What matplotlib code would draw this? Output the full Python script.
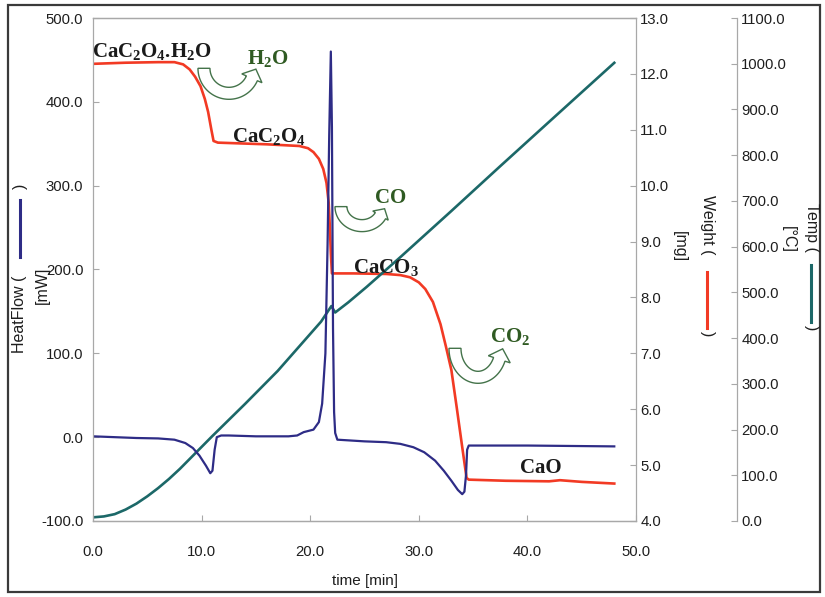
import numpy as np
import matplotlib
matplotlib.use("Agg")
import matplotlib.pyplot as plt
from matplotlib.patches import Polygon, Rectangle
from matplotlib.lines import Line2D
from matplotlib.transforms import Affine2D, ScaledTranslation

plt.rcParams['font.family'] = ['Liberation Sans', 'DejaVu Sans']
plt.rcParams['mathtext.fontset'] = 'custom'
plt.rcParams['mathtext.rm'] = 'Liberation Serif:bold'
plt.rcParams['mathtext.default'] = 'rm'

# heat flow trace [mW]
t_hf = [0.0, 2.0, 4.0, 6.0, 7.5, 8.5, 9.2, 9.8, 10.4, 10.8, 11.0, 11.2, 11.4, 11.8,
        12.5, 15.0, 18.0, 18.8, 19.4, 20.3, 20.8, 21.1, 21.4, 21.6, 21.75, 21.9,
        22.0, 22.1, 22.2, 22.3, 22.5, 25.0, 27.0, 28.3, 29.5, 30.5, 31.5, 32.3,
        33.0, 33.6, 34.0, 34.2, 34.35, 34.45, 34.6, 40.0, 48.0]
heatflow = [1, 0, -1, -1.5, -3, -7, -13, -22, -34, -43, -40, -15, 0, 2,
            2, 1, 1, 2, 6, 9, 18, 40, 100, 230, 360, 460,
            370, 130, 30, 5, -3, -5, -6, -8, -12, -18, -28, -40,
            -52, -63, -68, -65, -45, -15, -10, -10, -11]

# sample weight [mg]
t_wt = [0.0, 3.0, 6.0, 7.5, 8.3, 8.9, 9.4, 9.9, 10.3, 10.6, 10.9, 11.1, 11.5,
        13.0, 16.0, 19.0, 19.8, 20.3, 20.8, 21.2, 21.5, 21.7, 21.8, 21.9, 22.0,
        24.0, 27.0, 28.3, 29.2, 30.0, 30.6, 31.3, 32.0, 32.5, 33.0, 33.5, 34.0,
        34.4, 34.6, 38.0, 42.0, 43.0, 45.0, 48.0]
weight = [12.18, 12.20, 12.21, 12.21, 12.17, 12.08, 11.95, 11.78, 11.55, 11.32, 11.0, 10.80, 10.77,
          10.76, 10.74, 10.71, 10.67, 10.60, 10.48, 10.30, 10.05, 9.7, 9.3, 8.8, 8.43,
          8.43, 8.42, 8.40, 8.36, 8.27, 8.15, 7.92, 7.52, 7.12, 6.70, 6.02, 5.32,
          4.77, 4.74, 4.72, 4.71, 4.73, 4.70, 4.67]

# furnace temperature [°C]
t_temp = [0.0, 1.0, 2.0, 3.0, 4.0, 5.0, 6.0, 7.0, 8.0, 9.0, 10.0, 11.0, 14.0,
          17.0, 19.0, 21.0, 21.95, 22.3, 23.5, 25.2, 28.3, 33.0, 37.5, 42.0, 48.0]
temp = [8, 10, 15, 25, 38, 54, 72, 92, 114, 138, 162, 186, 256,
        328, 382, 436, 470, 456, 478, 512, 577, 678, 776, 873, 1002]

x_ticks = [0, 10, 20, 30, 40, 50]
hf_ticks = [-100, 0, 100, 200, 300, 400, 500]
wt_ticks = [4, 5, 6, 7, 8, 9, 10, 11, 12, 13]
temp_ticks = [0, 100, 200, 300, 400, 500, 600, 700, 800, 900, 1000, 1100]

RED = '#f23a24'
BLUE = '#2e2c86'
TEAL = '#1c6868'
GREEN = '#2f5a22'
SPINE = '#a8a8a8'
TXT = '#1e1e1e'

W, H = 825, 597
fig = plt.figure(figsize=(W / 100, H / 100), dpi=100)
ax = fig.add_axes([93 / W, 1 - 521 / H, (636 - 93) / W, (521 - 18) / H])
ax_wt = ax.twinx()
ax_tp = ax.twinx()

ax_wt.plot(t_wt, weight, color=RED, lw=1.9, solid_joinstyle='round')
ax_tp.plot(t_temp, temp, color=TEAL, lw=1.9, solid_joinstyle='round')
ax.plot(t_hf, heatflow, color=BLUE, lw=1.6, solid_joinstyle='round')

# heat flow axes sits on top so the DSC trace is drawn last
ax.set_zorder(ax_tp.get_zorder() + 1)
ax.patch.set_visible(False)

ax.set_xlim(0, 50)
ax.set_ylim(-100, 500)
ax_wt.set_ylim(4, 13)
ax_tp.set_ylim(0, 1100)

fmt = matplotlib.ticker.FormatStrFormatter('%.1f')
ax.set_xticks(x_ticks)
ax.set_yticks(hf_ticks)
ax_wt.set_yticks(wt_ticks)
ax_tp.set_yticks(temp_ticks)
for a in (ax, ax_wt, ax_tp):
    a.xaxis.set_major_formatter(fmt)
    a.yaxis.set_major_formatter(fmt)
    for s in a.spines.values():
        s.set_color(SPINE)
        s.set_linewidth(0.9)

ax.spines['right'].set_visible(False)
ax_wt.spines['left'].set_visible(False)
for s in ('left', 'top', 'bottom'):
    ax_tp.spines[s].set_visible(False)
ax_tp.spines['right'].set_position(('axes', (737 - 93) / (636 - 93)))

ax.tick_params(axis='y', direction='in', length=4, color=SPINE, pad=7,
               labelsize=10.7, labelcolor=TXT)
ax.tick_params(axis='x', direction='in', length=4, color=SPINE, pad=17,
               labelsize=10.7, labelcolor=TXT)
ax_wt.tick_params(axis='y', direction='in', length=4, color=SPINE, pad=3,
                  labelsize=10.7, labelcolor=TXT)
ax_tp.tick_params(axis='y', direction='in', length=4, color=SPINE, pad=3,
                  labelsize=10.7, labelcolor=TXT)

ax.set_xlabel('time [min]', fontsize=11, color=TXT, labelpad=11)

# species labels along the weight steps
species = dict(fontfamily='Liberation Serif', fontweight='bold', fontsize=15,
               ha='left', va='baseline', zorder=10)
ax.text(-0.1, 453, r'CaC$_2$O$_4$.H$_2$O', color='#1a1a1a', **species)
ax.text(12.8, 352, r'CaC$_2$O$_4$', color='#1a1a1a', **species)
ax.text(23.9, 196, r'CaCO$_3$', color='#1a1a1a', **species)
ax.text(39.3, -43, 'CaO', color='#1a1a1a', **species)
ax.text(14.2, 445, r'H$_2$O', color=GREEN, **species)
ax.text(26.0, 279, 'CO', color=GREEN, **species)
ax.text(36.6, 113, r'CO$_2$', color=GREEN, **species)


def u_arrow(xc, yc, a, b, hb, w=6.0, hw=11.0, hl=10.0):
    """Hollow U-turn arrow; (xc, yc) is the top centre in data units,
    the sizes are in pixels: half span a, depth b, head base hb below the top."""
    phi_end = 2 * np.pi - np.arcsin(hb / b)
    phi = np.linspace(np.pi, phi_end, 60)
    px, py = a * np.cos(phi), b * np.sin(phi)
    nx, ny = b * np.cos(phi), a * np.sin(phi)
    nn = np.hypot(nx, ny)
    nx, ny = nx / nn, ny / nn
    tx, ty = -a * np.sin(phi_end), b * np.cos(phi_end)
    tn = np.hypot(tx, ty)
    ex, ey, enx, eny = px[-1], py[-1], nx[-1], ny[-1]
    outer = np.column_stack([px + w * nx, py + w * ny])
    inner = np.column_stack([px - w * nx, py - w * ny])[::-1]
    head = np.array([[ex + hw * enx, ey + hw * eny],
                     [ex + hl * tx / tn, ey + hl * ty / tn],
                     [ex - hw * enx, ey - hw * eny]])
    verts = np.vstack([outer, head, inner])
    tr = Affine2D().scale(0.01) + fig.dpi_scale_trans + ScaledTranslation(xc, yc, ax.transData)
    ax.add_patch(Polygon(verts, closed=True, transform=tr, fc='white',
                         ec='#44734a', lw=1.0, zorder=9))


# gas release arrows
u_arrow(12.52, 440, a=25, b=25, hb=10, hw=11, hl=10)
u_arrow(24.77, 275, a=21, b=19, hb=9, hw=9, hl=8)
u_arrow(35.45, 106, a=23, b=29, hb=11, hw=11.5, hl=11)


# axis titles with a short line sample of each trace
def ftxt(px, py, s, rot, size=11.5):
    fig.text(px / W, 1 - py / H, s, rotation=rot, ha='center', va='center',
             fontsize=size, color=TXT)


def fseg(px, py0, py1, color):
    fig.add_artist(Line2D([px / W, px / W], [1 - py0 / H, 1 - py1 / H],
                          color=color, lw=2.2, transform=fig.transFigure))


ftxt(20, 314, 'HeatFlow (', 90)
fseg(20, 200, 257, BLUE)
ftxt(20, 186, ')', 90)
ftxt(42, 285, '[mW]', 90)

ftxt(707, 225, 'Weight (', 270)
fseg(707, 272, 328, RED)
ftxt(707, 334, ')', 270)
ftxt(679, 247, '[mg]', 270)

ftxt(811, 227, 'Temp (', 270)
fseg(811, 265, 322, TEAL)
ftxt(811, 328, ')', 270)
ftxt(788, 240, '[°C]', 270)

# outer frame
fig.add_artist(Rectangle((8 / W, 1 - 592 / H), (820 - 8) / W, (592 - 5) / H,
                         transform=fig.transFigure, fill=False,
                         ec='#3a3a3a', lw=1.6))

fig.savefig('out.png', dpi=100)
